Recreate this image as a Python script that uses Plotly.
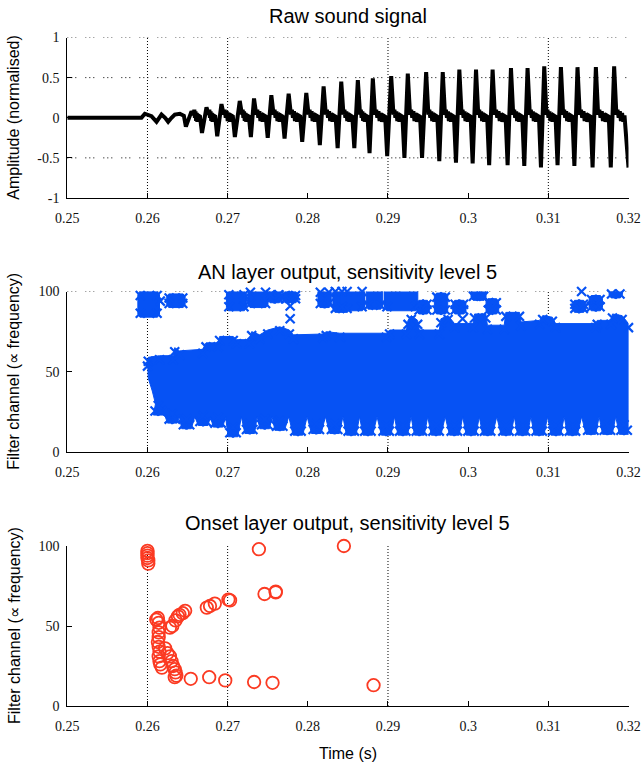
import plotly.graph_objects as go

# ---------------- axis ticks ----------------
X_TICKS = [0.25, 0.26, 0.27, 0.28, 0.29, 0.30, 0.31, 0.32]
X_TICK_TEXT = ["0.25", "0.26", "0.27", "0.28", "0.29", "0.3", "0.31", "0.32"]
SIG_TICKS = [-1, -0.5, 0, 0.5, 1]
SIG_TICK_TEXT = ["-1", "-0.5", "0", "0.5", "1"]
CH_TICKS = [0, 50, 100]
CH_TICK_TEXT = ["0", "50", "100"]

# visible (dotted) grid lines per panel
TOP_VGRID = [0.26, 0.27, 0.29, 0.31]
TOP_HGRID = [1, 0.5, -0.5]
MID_VGRID = [0.26, 0.27, 0.29, 0.31]
MID_HGRID = [100]
BOT_VGRID = [0.26, 0.27, 0.29]

# ---------------- raw signal ----------------
sig_lead_t = [0.2500, 0.2590]
sig_lead_a = [0.0, 0.0]
sig_early_t = [0.25925, 0.25967, 0.26050, 0.26113, 0.26175, 0.26220, 0.26258, 0.26300, 0.26341, 0.26404]
sig_early_a = [0.00, 0.05, 0.02, -0.05, 0.04, 0.00, -0.05, 0.00, 0.04, 0.05]
trough_t = [0.26479, 0.26680, 0.26870, 0.27090, 0.27290, 0.27500, 0.27710, 0.27930, 0.28150, 0.28372,
            0.28580, 0.28770, 0.28990, 0.29205, 0.29425, 0.29640, 0.29848, 0.30056, 0.30262, 0.30492,
            0.30700, 0.30908, 0.31115, 0.31325, 0.31552, 0.31779]
trough_a = [-0.11, -0.19, -0.23, -0.24, -0.24, -0.25, -0.26, -0.30, -0.34, -0.38,
            -0.38, -0.44, -0.48, -0.50, -0.50, -0.54, -0.56, -0.57, -0.59, -0.59,
            -0.60, -0.62, -0.59, -0.60, -0.62, -0.62]
peak_t = [0.26549, 0.26736, 0.26923, 0.27151, 0.27329, 0.27545, 0.27761, 0.27981, 0.28197, 0.28417,
          0.28624, 0.28811, 0.29040, 0.29247, 0.29476, 0.29683, 0.29890, 0.30098, 0.30305, 0.30534,
          0.30741, 0.30949, 0.31157, 0.31364, 0.31593, 0.31821]
peak_a = [0.08, 0.13, 0.17, 0.21, 0.24, 0.28, 0.30, 0.31, 0.39, 0.45,
          0.47, 0.49, 0.52, 0.55, 0.57, 0.57, 0.60, 0.60, 0.60, 0.62,
          0.62, 0.64, 0.63, 0.63, 0.63, 0.64]
# small noisy ripple seen between spikes (fraction of the quiet stretch, amplitude)
ripple_frac = [0.0, 0.14, 0.28, 0.42, 0.56, 0.70, 0.85, 1.0]
ripple_a = [0.04, 0.10, 0.00, 0.08, -0.04, 0.06, -0.05, 0.03]
sig_end_t = [0.3200]
sig_end_a = [-0.62]

# ---------------- AN layer output ----------------
an_top_t = [0.2600, 0.2601, 0.2615, 0.2632, 0.2634, 0.2640, 0.2669, 0.2673, 0.2688, 0.2690,
            0.2707, 0.2711, 0.2727, 0.2730, 0.2740, 0.2750, 0.2765, 0.2777, 0.2782, 0.2819,
            0.2823, 0.2840, 0.2898, 0.2902, 0.2923, 0.2925, 0.2929, 0.2937, 0.2939, 0.2964,
            0.2966, 0.2975, 0.2983, 0.3006, 0.3008, 0.3022, 0.3024, 0.3045, 0.3047, 0.3064,
            0.3066, 0.3089, 0.3093, 0.3105, 0.3109, 0.3159, 0.3161, 0.3178, 0.3180, 0.3192,
            0.3200]
an_top_c = [56, 59, 60, 60, 65, 63, 64, 68, 68, 72,
            72, 70, 70, 75, 73, 76, 78, 76, 73, 73.5,
            75, 74, 74, 76, 76, 82, 85, 82, 76, 76,
            83, 85, 80, 80, 86, 86, 79, 79, 87, 87,
            81, 82, 85, 84, 80, 80, 82, 82, 86, 85,
            80]
an_left_t = [0.2610, 0.2606, 0.2601]
an_left_c = [30, 38, 46]
an_tooth_t = [0.26134, 0.26310, 0.26487, 0.26694, 0.26880, 0.27067, 0.27275, 0.27462, 0.27649, 0.27877,
              0.28106, 0.28334, 0.28542, 0.28749, 0.28978, 0.29184, 0.29392, 0.29600, 0.29828, 0.30036,
              0.30242, 0.30472, 0.30678, 0.30886, 0.31094, 0.31301, 0.31530, 0.31737, 0.31945]
an_tooth_c = [23, 18, 14.5, 16.5, 15.5, 9.5, 11.5, 14.5, 13.5, 10.5,
              11.5, 11.5, 10.5, 10.5, 10.5, 10.5, 10.5, 10.5, 10.5, 10.5,
              10.5, 10.5, 10.5, 10.5, 10.5, 10.5, 11, 11, 11]
an_notch_c = 22
blob_t0 = [0.2588, 0.2624, 0.26985, 0.27254, 0.27503, 0.2769, 0.28126, 0.28313, 0.28396, 0.28728,
           0.28957, 0.29359, 0.29579, 0.29807, 0.30036, 0.30223, 0.31301, 0.31509, 0.31758]
blob_t1 = [0.2615, 0.2647, 0.27234, 0.27503, 0.2767, 0.27877, 0.28292, 0.2852, 0.28707, 0.28936,
           0.29372, 0.29517, 0.29745, 0.29973, 0.30223, 0.30381, 0.31467, 0.31675, 0.31924]
blob_c0 = [84, 90, 88, 90, 93, 93, 90, 87, 88, 89, 88, 86, 86, 86, 94.5, 86, 87, 88, 96]
blob_c1 = [100, 98.5, 100.5, 102, 100.5, 100, 102, 102.5, 102.5, 103, 103, 94.5, 99, 94.5, 103, 95.5, 94.5, 97.5, 103]
an_single_t = [0.2778, 0.2778, 0.31415, 0.2616, 0.29931]
an_single_c = [91, 83, 100, 94, 83]

# ---------------- Onset layer output ----------------
onset_t = [0.2600, 0.2600, 0.2600, 0.2600, 0.2601, 0.2601, 0.2739, 0.2845, 0.2746, 0.2760,
           0.2760, 0.2701, 0.2703, 0.2684, 0.2678, 0.2674, 0.2647, 0.2644, 0.2640, 0.2638,
           0.2635, 0.2631, 0.2628, 0.2611, 0.2614, 0.2613, 0.2615, 0.2614, 0.2614, 0.2613,
           0.2614, 0.2615, 0.2614, 0.2615, 0.2616, 0.2618, 0.2622, 0.2625, 0.2628, 0.2630,
           0.2632, 0.2634, 0.2635, 0.2636, 0.2634, 0.2654, 0.2677, 0.2697, 0.2733, 0.2756,
           0.2882]
onset_c = [97, 95.5, 94, 92.5, 91, 89, 98, 100, 70, 71.5,
           71, 66.5, 66, 64, 62.5, 61.5, 59.5, 58, 57, 56,
           53.5, 50, 49, 54, 52, 55, 49, 46, 43, 40,
           37, 34, 31, 28, 26, 24, 36, 33, 31, 28,
           25, 23, 21, 19, 18, 17, 18, 16, 15, 14.5,
           13]

# ---------------- styling ----------------
BLUE = "#0652f4"
RED = "#fb3a22"
XDOM = [67.3 / 642, 628.5 / 642]
H = 765.0
def ydom(top_px, bot_px):
    return [1 - bot_px / H, 1 - top_px / H]

# ---------------- build signal polyline ----------------
st = list(sig_lead_t) + list(sig_early_t)
sa = list(sig_lead_a) + list(sig_early_a)
n = len(peak_t)
for k in range(n):
    st += [trough_t[k] - 0.00025, trough_t[k], peak_t[k]]
    sa += [sa[-1] * 0.5, trough_a[k], peak_a[k]]
    nxt = trough_t[k + 1] if k + 1 < n else sig_end_t[0]
    q0 = peak_t[k] + 0.00028
    q1 = nxt - 0.0005
    for f, a in zip(ripple_frac, ripple_a):
        st.append(q0 + f * (q1 - q0))
        sa.append(a)
st += sig_end_t
sa += sig_end_a

# ---------------- build AN polygons ----------------
hw = 0.0006
px = list(an_top_t) + [0.3200]
py = list(an_top_c) + [14]
for k in range(len(an_tooth_t) - 1, -1, -1):
    px += [an_tooth_t[k] + hw, an_tooth_t[k] - hw]
    py += [an_tooth_c[k], an_tooth_c[k]]
    if k > 0:
        px.append((an_tooth_t[k] + an_tooth_t[k - 1]) / 2)
        py.append(an_notch_c)
px += an_left_t + [an_top_t[0]]
py += an_left_c + [an_top_c[0]]

bx, by = [], []
for t0, t1, c0, c1 in zip(blob_t0, blob_t1, blob_c0, blob_c1):
    d, e = 0.00025, 2.0
    bx += [t0 + d, t1 - d, t1, t1, t1 - d, t0 + d, t0, t0, t0 + d, None]
    by += [c1, c1, c1 - e, c0 + e, c0, c0, c0 + e, c1 - e, c1, None]

mx, my = [], []
for t, c in zip(an_top_t, an_top_c):
    mx.append(t); my.append(c - 2.5)
for t, c in zip(an_tooth_t, an_tooth_c):
    mx += [t - 0.0004, t + 0.0004, t]; my += [c + 2.5, c + 2.5, c + 6]
for t0, t1, c0, c1 in zip(blob_t0, blob_t1, blob_c0, blob_c1):
    mx += [t0 + 0.0003, t1 - 0.0003, t0 + 0.0003, t1 - 0.0003]
    my += [c0 + 2.5, c0 + 2.5, c1 - 2.5, c1 - 2.5]
mx += an_single_t
my += an_single_c

fig = go.Figure()
fig.add_trace(go.Scatter(x=st, y=sa, mode="lines", line=dict(color="black", width=4),
                         xaxis="x", yaxis="y", showlegend=False, hoverinfo="skip"))
fig.add_trace(go.Scatter(x=px, y=py, mode="lines", fill="toself", fillcolor=BLUE,
                         line=dict(color=BLUE, width=1), xaxis="x2", yaxis="y2",
                         showlegend=False, hoverinfo="skip"))
fig.add_trace(go.Scatter(x=bx, y=by, mode="lines", fill="toself", fillcolor=BLUE,
                         line=dict(color=BLUE, width=1), xaxis="x2", yaxis="y2",
                         showlegend=False, hoverinfo="skip", cliponaxis=False))
fig.add_trace(go.Scatter(x=mx, y=my, mode="markers",
                         marker=dict(symbol="x-thin", size=9, line=dict(color=BLUE, width=2.2), color=BLUE),
                         xaxis="x2", yaxis="y2", showlegend=False, hoverinfo="skip", cliponaxis=False))
fig.add_trace(go.Scatter(x=onset_t, y=onset_c, mode="markers",
                         marker=dict(symbol="circle-open", size=12.5, color=RED, line=dict(color=RED, width=1.8)),
                         xaxis="x3", yaxis="y3", showlegend=False, hoverinfo="skip", cliponaxis=False))

tickfont = dict(family="'Liberation Serif', 'Times New Roman', 'DejaVu Serif', serif", size=14, color="#111")
def xax(anchor):
    return dict(domain=XDOM, range=[0.25, 0.32], anchor=anchor, tickvals=X_TICKS, ticktext=X_TICK_TEXT,
                ticks="inside", ticklen=5, tickwidth=1, tickcolor="black", showline=True,
                linecolor="black", linewidth=1, showgrid=False, zeroline=False, tickfont=tickfont,
                ticklabelstandoff=7, fixedrange=True, automargin=False)
def yax(anchor, dom, rng, tv, tt):
    return dict(domain=dom, range=rng, anchor=anchor, tickvals=tv, ticktext=tt,
                ticks="inside", ticklen=5, tickwidth=1, tickcolor="black", showline=True,
                linecolor="black", linewidth=1, showgrid=False, zeroline=False, tickfont=tickfont,
                ticklabelstandoff=4, fixedrange=True, automargin=False)

shapes = []
HDASH = "1px,3px,1px,3px,1px,9px"
VDASH = "1px,2px"
def vgrid(xr, yr, vals):
    for v in vals:
        shapes.append(dict(type="line", xref=xr, yref=yr + " domain", x0=v, x1=v, y0=0, y1=1,
                           line=dict(color="black", width=1, dash=VDASH), layer="below"))
def hgrid(xr, yr, vals):
    for v in vals:
        shapes.append(dict(type="line", xref=xr + " domain", yref=yr, x0=0, x1=1, y0=v, y1=v,
                           line=dict(color="black", width=1, dash=HDASH), layer="below"))
vgrid("x", "y", TOP_VGRID); hgrid("x", "y", TOP_HGRID)
vgrid("x2", "y2", MID_VGRID); hgrid("x2", "y2", MID_HGRID)
vgrid("x3", "y3", BOT_VGRID)

cx = (67.3 + 628.5) / 2 / 642
tfont = dict(family="Liberation Sans", size=20, color="black")
lfont = dict(family="Liberation Sans", size=16, color="black")
ann = [
    dict(text="Raw sound signal", x=cx, y=1 - 16 / H, font=tfont),
    dict(text="AN layer output, sensitivity level 5", x=cx, y=1 - 272 / H, font=tfont),
    dict(text="Onset layer output, sensitivity level 5", x=cx, y=1 - 523 / H, font=tfont),
    dict(text="Time (s)", x=cx, y=1 - 753 / H, font=lfont),
    dict(text="Amplitude (normalised)", x=14 / 642, y=1 - 117.75 / H, font=lfont, textangle=-90),
    dict(text="Filter channel (\u221d frequency)", x=14 / 642, y=1 - 371.75 / H, font=lfont, textangle=-90),
    dict(text="Filter channel (\u221d frequency)", x=14 / 642, y=1 - 626 / H, font=lfont, textangle=-90),
]
for a in ann:
    a.update(xref="paper", yref="paper", showarrow=False, xanchor="center", yanchor="middle")

fig.update_layout(
    width=642, height=765, margin=dict(l=0, r=0, t=0, b=0, pad=0, autoexpand=False),
    paper_bgcolor="white", plot_bgcolor="white",
    xaxis=xax("y"), yaxis=yax("x", ydom(37.5, 198), [-1, 1], SIG_TICKS, SIG_TICK_TEXT),
    xaxis2=xax("y2"), yaxis2=yax("x2", ydom(291.5, 452), [0, 100], CH_TICKS, CH_TICK_TEXT),
    xaxis3=xax("y3"), yaxis3=yax("x3", ydom(546, 706), [0, 100], CH_TICKS, CH_TICK_TEXT),
    shapes=shapes, annotations=ann, showlegend=False,
)
fig.write_html("out.html", config={"displayModeBar": False, "staticPlot": True},
               post_script="document.body.style.margin='0';document.body.style.padding='0';"
                           "document.body.style.overflow='hidden';")
